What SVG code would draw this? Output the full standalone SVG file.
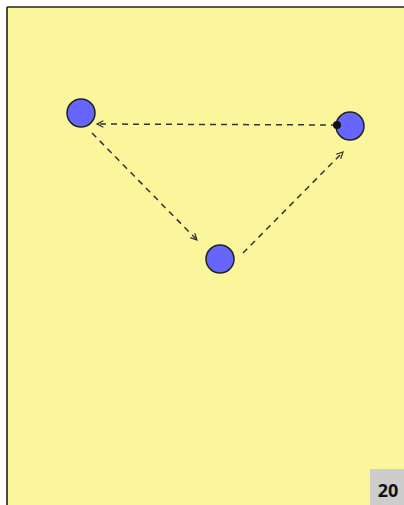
<svg xmlns="http://www.w3.org/2000/svg" width="404" height="505" viewBox="0 0 404 505">
<style>
.node{fill:#6666ff;stroke:#222;stroke-width:1.5}
.edge{stroke:#333;stroke-width:1.5;stroke-dasharray:6,5;fill:none;marker-end:url(#arr)}
.lbl{font-family:"Open Sans","Liberation Sans",sans-serif;font-weight:bold;font-size:18px;fill:#111}
</style>
<defs>
<marker id="arr" viewBox="0 0 10 10" refX="9" refY="5" markerWidth="8" markerHeight="8" orient="auto" markerUnits="userSpaceOnUse">
<path d="M1,1 L9,5 L1,9" fill="none" stroke="#333" stroke-width="1.5"/>
</marker>
</defs>
<rect x="0" y="0" width="404" height="505" fill="#ffffff"/>
<rect x="7" y="7" width="397" height="498" fill="#fbf69c"/>
<line x1="7" y1="7" x2="404" y2="7" stroke="#222" stroke-width="1.5"/>
<line x1="7" y1="7" x2="7" y2="505" stroke="#111" stroke-width="1.5"/>
<g id="nodeA"><circle class="node" cx="81" cy="113" r="14"/></g>
<g id="nodeB"><circle class="node" cx="350" cy="126" r="14"/></g>
<g id="nodeC"><circle class="node" cx="220" cy="259" r="14"/></g>
<g id="connectors">
<path class="edge" d="M337,125 L97,124"/>
<circle cx="337" cy="125" r="4" fill="#111"/>
<path class="edge" d="M92,133 L197,240"/>
<path class="edge" d="M243,253 L343,152"/>
</g>
<g id="badge">
<rect x="370" y="469" width="34" height="36" fill="#cdcdcd"/>
<text class="lbl" x="388" y="497" text-anchor="middle">20</text>
</g>
</svg>
